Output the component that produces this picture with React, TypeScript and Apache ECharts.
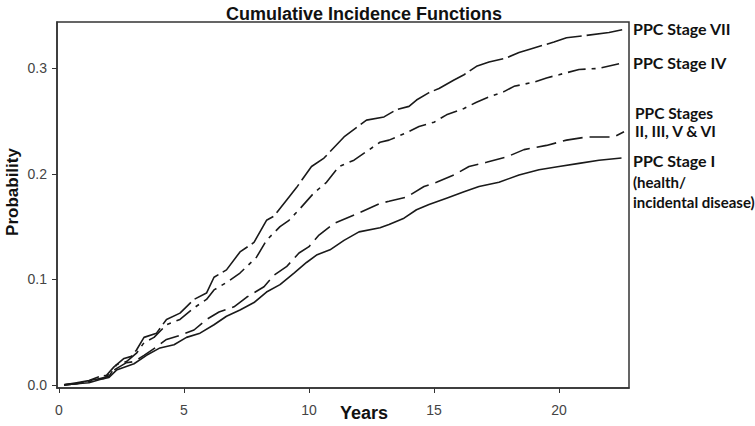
import React, { useEffect, useRef } from "react";
import * as echarts from "echarts";

const xTicks = [0, 5, 10, 15, 20];
const yTicks = [0, 0.1, 0.2, 0.3];

const stageVII: [number, number][] = [
  [0.2, 0], [0.7, 0.002], [1.2, 0.004], [1.64, 0.008], [1.9, 0.009], [2.2, 0.017], [2.6, 0.025], [2.9, 0.027],
  [3.1, 0.033], [3.4, 0.045], [3.9, 0.049], [4.3, 0.062], [4.84, 0.068], [5.4, 0.081], [5.9, 0.087], [6.2, 0.102],
  [6.7, 0.109], [7.24, 0.126], [7.8, 0.135], [8.3, 0.156], [8.6, 0.16], [9.1, 0.175], [9.5, 0.187], [10.1, 0.207],
  [10.6, 0.215], [11.4, 0.235], [12.3, 0.251], [13.0, 0.254], [13.5, 0.261], [14.0, 0.264], [14.3, 0.27], [14.8, 0.277],
  [15.2, 0.281], [15.8, 0.289], [16.2, 0.294], [16.7, 0.302], [17.2, 0.306], [17.9, 0.31], [18.4, 0.315], [18.8, 0.318],
  [19.8, 0.325], [20.3, 0.329], [21.0, 0.331], [22.0, 0.334], [22.6, 0.337],
];

const stageIV: [number, number][] = [
  [0.2, 0], [0.7, 0.001], [1.2, 0.003], [1.64, 0.006], [2.0, 0.008], [2.3, 0.019], [2.7, 0.022], [3.1, 0.03],
  [3.4, 0.04], [3.8, 0.045], [4.3, 0.057], [4.84, 0.062], [5.4, 0.073], [5.9, 0.081], [6.2, 0.09], [6.7, 0.097],
  [7.24, 0.106], [7.9, 0.121], [8.3, 0.137], [8.84, 0.15], [9.2, 0.156], [9.6, 0.166], [10.2, 0.182], [10.7, 0.192],
  [11.2, 0.207], [11.8, 0.213], [12.84, 0.23], [13.2, 0.232], [13.9, 0.239], [14.4, 0.245], [15.0, 0.249], [15.5, 0.256],
  [16.2, 0.262], [16.7, 0.268], [17.2, 0.273], [17.8, 0.278], [18.2, 0.283], [19.0, 0.287], [19.5, 0.291], [20.0, 0.294],
  [20.8, 0.299], [21.6, 0.3], [22.5, 0.305],
];

const stagesII_VI: [number, number][] = [
  [0.2, 0], [0.7, 0.001], [1.4, 0.005], [1.8, 0.006], [2.2, 0.014], [2.7, 0.021], [3.0, 0.022], [3.4, 0.028],
  [3.9, 0.036], [4.3, 0.043], [4.84, 0.047], [5.4, 0.052], [5.9, 0.062], [6.4, 0.069], [7.0, 0.074], [7.5, 0.083],
  [8.2, 0.093], [8.6, 0.104], [9.1, 0.112], [9.6, 0.125], [10.0, 0.131], [10.4, 0.142], [11.0, 0.153], [12.0, 0.163],
  [12.84, 0.172], [13.2, 0.174], [13.9, 0.178], [14.6, 0.188], [15.1, 0.192], [15.8, 0.199], [16.4, 0.207], [17.1, 0.211],
  [17.9, 0.216], [18.6, 0.223], [19.5, 0.227], [20.3, 0.232], [21.1, 0.235], [22.2, 0.235], [22.6, 0.24],
];

const stageI: [number, number][] = [
  [0.2, 0], [0.7, 0.001], [1.2, 0.002], [1.64, 0.005], [2.0, 0.007], [2.3, 0.014], [3.0, 0.02], [3.5, 0.028],
  [4.04, 0.035], [4.6, 0.038], [5.1, 0.045], [5.64, 0.049], [6.2, 0.057], [6.7, 0.065], [7.24, 0.071], [7.8, 0.078],
  [8.3, 0.088], [8.84, 0.095], [9.4, 0.106], [9.9, 0.116], [10.3, 0.123], [10.84, 0.128], [11.4, 0.137], [12.0, 0.145],
  [12.84, 0.149], [13.2, 0.152], [13.8, 0.158], [14.3, 0.166], [14.8, 0.171], [15.5, 0.177], [16.2, 0.183], [16.8, 0.188],
  [17.6, 0.192], [18.4, 0.199], [19.2, 0.204], [20.0, 0.207], [20.8, 0.21], [21.6, 0.213], [22.5, 0.215],
];

const seriesNames = ["PPC Stage VII", "PPC Stage IV", "PPC Stages\nII, III, V & VI", "PPC Stage I"];

export default function App() {
  const ref = useRef<HTMLDivElement>(null);
  useEffect(() => {
    if (!ref.current) return;
    const chart = echarts.init(ref.current, undefined, { renderer: "svg" });
    const lineColor = "#1a1a1a";
    const mk = (name: string, data: [number, number][], type: any) => ({
      name,
      type: "line",
      data,
      showSymbol: false,
      symbol: "none",
      smooth: false,
      lineStyle: { color: lineColor, width: 1.6, type },
      silent: true,
    });
    const labelStyle = { fontFamily: "Lato", fontWeight: "bold", fontSize: 16, fill: "#111" } as any;
    chart.setOption({
      animation: false,
      backgroundColor: "#fff",
      title: {
        text: "Cumulative Incidence Functions",
        left: 359,
        top: 0,
        textAlign: "center",
        textStyle: { fontFamily: "Liberation Sans", fontWeight: "bold", fontSize: 18, color: "#111" },
      },
      grid: {
        left: 57,
        top: 22,
        right: 126,
        bottom: 38,
        show: true,
        borderColor: "#333",
        borderWidth: 1.5,
        containLabel: false,
      },
      xAxis: {
        type: "value",
        min: -0.08,
        max: 22.8,
        splitLine: { show: false },
        axisLine: { show: true, onZero: false, lineStyle: { color: "#333", width: 1.5 } },
        axisTick: { show: true, customValues: xTicks, length: 5, lineStyle: { color: "#333" } },
        axisLabel: {
          customValues: xTicks,
          margin: 15,
          fontFamily: "Liberation Sans",
          fontSize: 14,
          color: "#444",
          formatter: (v: number) => String(v),
        },
      },
      yAxis: {
        type: "value",
        min: -0.003,
        max: 0.344,
        splitLine: { show: false },
        axisLine: { show: true, onZero: false, lineStyle: { color: "#333", width: 1.5 } },
        axisTick: { show: true, customValues: yTicks, length: 5, lineStyle: { color: "#333" } },
        axisLabel: {
          customValues: yTicks,
          margin: 10,
          fontFamily: "Liberation Sans",
          fontSize: 14,
          color: "#444",
          formatter: (v: number) => v.toFixed(1),
        },
      },
      series: [
        mk(seriesNames[0], stageVII, [36, 5]),
        mk(seriesNames[1], stageIV, [18, 6, 4, 6]),
        mk(seriesNames[2], stagesII_VI, [20, 7]),
        mk(seriesNames[3], stageI, "solid"),
      ],
      graphic: [
        { type: "text", left: 340, top: 404, style: { text: "Years", font: "bold 18px 'Liberation Sans'", fill: "#111" } },
        {
          type: "text",
          x: 12,
          y: 192,
          rotation: Math.PI / 2,
          style: { text: "Probability", font: "bold 17px 'Liberation Sans'", fill: "#111", align: "center", verticalAlign: "middle" },
        },
        { type: "text", x: 633, y: 28, style: { ...labelStyle, text: seriesNames[0], verticalAlign: "middle" } },
        { type: "text", x: 633, y: 62, style: { ...labelStyle, text: seriesNames[1], verticalAlign: "middle" } },
        { type: "text", x: 635, y: 122, style: { ...labelStyle, fontSize: 15.5, text: seriesNames[2], lineHeight: 18, verticalAlign: "middle" } },
        { type: "text", x: 633, y: 160, style: { ...labelStyle, text: seriesNames[3], verticalAlign: "middle" } },
        { type: "text", x: 633, y: 192, style: { ...labelStyle, fontSize: 15, lineHeight: 20, text: "(health/\nincidental disease)", verticalAlign: "middle" } },
      ],
    });
    return () => chart.dispose();
  }, []);
  return <div ref={ref} style={{ width: 755, height: 426, position: "absolute", left: 0, top: 0 }} />;
}
